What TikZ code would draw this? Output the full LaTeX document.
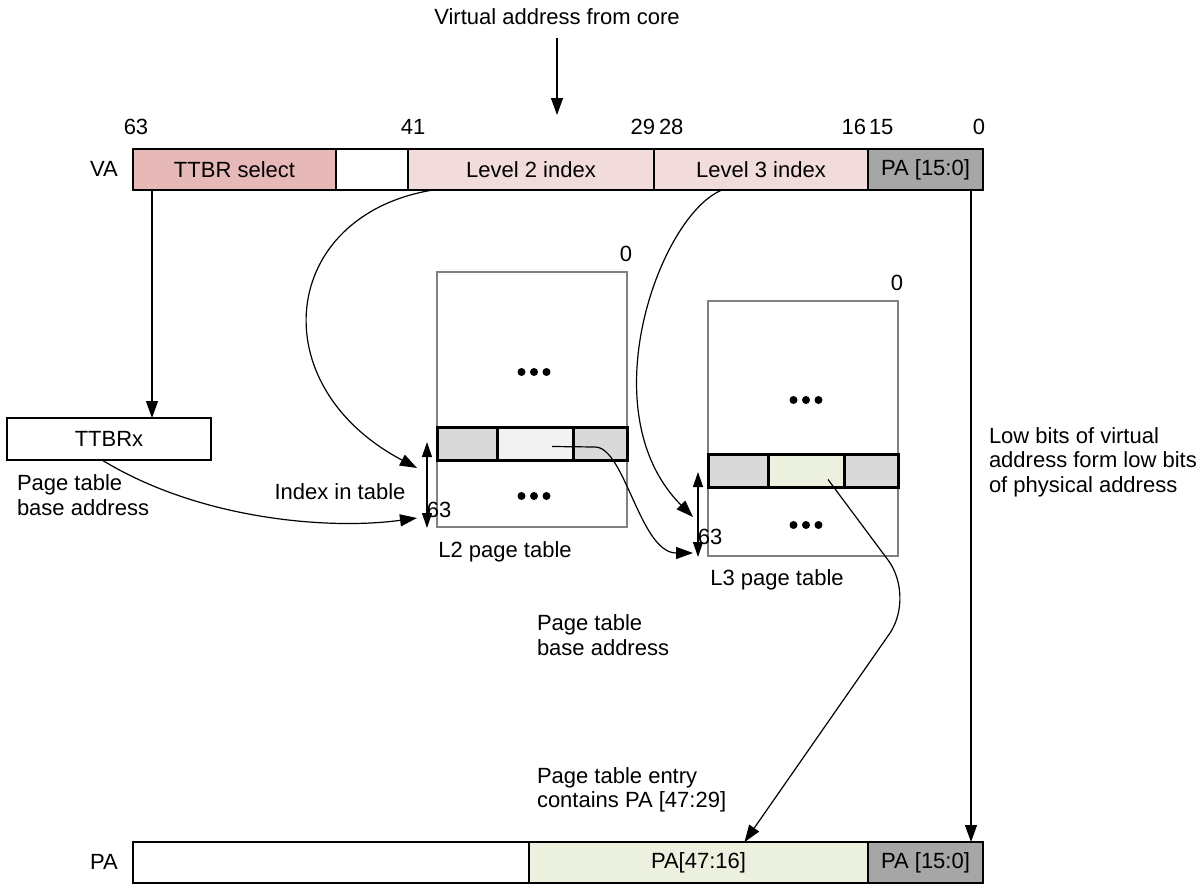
\documentclass[tikz,border=0pt]{standalone}
\usepackage{fontspec}
\setmainfont{Liberation Sans}
\usetikzlibrary{arrows.meta}
\definecolor{ttbrc}{HTML}{E6B8B7}
\definecolor{idxc}{HTML}{F2DCDB}
\definecolor{grayc}{HTML}{A6A6A6}
\definecolor{greenc}{HTML}{EBF1DE}
\definecolor{sidec}{HTML}{D9D9D9}
\definecolor{midc}{HTML}{F2F2F2}
\definecolor{tabc}{HTML}{808080}
\begin{document}
\begin{tikzpicture}[x=1pt,y=-1pt,
  every node/.style={font=\fontsize{22}{24.5}\selectfont, inner sep=0pt, outer sep=0pt},
  seg/.style={draw=black, line width=2.5pt, anchor=north west, minimum height=41pt},
  cell/.style={draw=black, line width=3pt, anchor=north west, minimum height=33pt},
  tab/.style={draw=tabc, line width=2pt, anchor=north west, minimum width=190pt, minimum height=255pt},
  conn/.style={line width=1.2pt, -{Triangle[length=17pt,width=12pt]}},
  dbl/.style={line width=1.2pt, {Triangle[length=15pt,width=10pt]}-{Triangle[length=15pt,width=10pt]}},
  lbl/.style={align=left, anchor=west}
]
\useasboundingbox (0,0) rectangle (1199,886);

% VA bar
\node[seg, fill=ttbrc, minimum width=203pt] (ttbr) at (133,149) {TTBR select};
\node[seg, minimum width=72pt] (gap) at (336,149) {};
\node[seg, fill=idxc, minimum width=246pt] (l2i) at (408,149) {Level 2 index};
\node[seg, fill=idxc, minimum width=214pt] (l3i) at (654,149) {Level 3 index};
\node[seg, fill=grayc, minimum width=115pt] (vpa) at (868,149) {PA [15:0]};
\node (va) at (104,169) {VA};

% bit numbers
\node (b63) at (136,127) {63};
\node (b41) at (413,127) {41};
\node[anchor=east] (b29) at (655,127) {29};
\node[anchor=west] (b28) at (659,127) {28};
\node[anchor=east] (b16) at (866,127) {16};
\node[anchor=west] (b15) at (869,127) {15};
\node[anchor=east] (b0) at (985,127) {0};

% core
\node (core) at (557,17) {Virtual address from core};
\coordinate (cs) at (557,38);
\coordinate (ce) at (557,115);
\draw[conn] (cs) -- (ce);

% TTBRx
\node[draw, line width=2.5pt, minimum width=204pt, minimum height=42pt, anchor=north west] (ttbrx) at (7,418) {TTBRx};
\node[lbl] (ptb1) at (17,495) {Page table\\base address};

% L2 table
\node[tab] (t2) at (437,272) {};
\node[cell, fill=sidec, minimum width=60pt] (t2a) at (437,427) {};
\node[cell, fill=midc, minimum width=76pt] (t2b) at (497,427) {};
\node[cell, fill=sidec, minimum width=54pt] (t2c) at (573,427) {};
\foreach \dx in {-12.5,0,12.5} {
  \fill (534+\dx,372) circle (4pt);
  \fill (534+\dx,496) circle (4pt);
}
\node (t2zero) at (626,254) {0};
\node (t2l) at (505,552) {L2 page table};
\coordinate (d2t) at (427,442);
\coordinate (d2b) at (427,528);
\draw[dbl] (d2t) -- (d2b);
\node (t2n) at (439,510) {63};
\node (idx) at (340,492) {Index in table};

% L3 table
\node[tab] (t3) at (708,301) {};
\node[cell, fill=sidec, minimum width=60pt] (t3a) at (708,454) {};
\node[cell, fill=greenc, minimum width=76pt] (t3b) at (768,454) {};
\node[cell, fill=sidec, minimum width=54pt] (t3c) at (844,454) {};
\foreach \dx in {-12.5,0,12.5} {
  \fill (806+\dx,400) circle (4pt);
  \fill (806+\dx,525) circle (4pt);
}
\node (t3zero) at (897,283) {0};
\node (t3l) at (777,580) {L3 page table};
\coordinate (d3t) at (698,472);
\coordinate (d3b) at (698,557);
\draw[dbl] (d3t) -- (d3b);
\node (t3n) at (710,537) {63};

% PA bar
\node[seg, minimum width=396pt] (pblank) at (133,842) {};
\node[seg, fill=greenc, minimum width=339pt] (p47) at (529,842) {PA[47:16]};
\node[seg, fill=grayc, minimum width=115pt] (p15) at (868,842) {PA [15:0]};
\node (pa) at (104,862) {PA};

% texts
\node[lbl] (ptb2) at (537,635) {Page table\\base address};
\node[lbl] (pte) at (537,790) {Page table entry\\contains PA [47:29]};
\node[lbl] (low) at (989,462) {Low bits of virtual\\address form low bits\\of physical address};

% connectors
\coordinate (t2in) at (417,468);
\coordinate (t2base) at (417,518);
\coordinate (t3in) at (693,517);
\coordinate (t3base) at (693,553);

\draw[conn] ([xshift=19pt]ttbr.south west) -- ([xshift=19pt]ttbr.south west |- ttbrx.north);
\draw[conn] ([xshift=25pt]l2i.south west) .. controls (280,215) and (260,385) .. (t2in);
\draw[conn] ([xshift=-7pt]ttbrx.south) .. controls (200,520) and (330,530) .. (t2base);
\draw[conn] ([xshift=68pt]l3i.south west) .. controls (660,215) and (588,412) .. (t3in);
\draw[conn] ([shift={(17,3)}]t2b.center) -- (595,447) .. controls (625,447) and (640,553) .. (t3base);
\draw[conn] ([shift={(22,9)}]t3b.center) -- (888,560) .. controls (903,580) and (904,612) .. (890,633) -- ([xshift=46pt]p47.north);
\draw[conn] ([xshift=-12pt]vpa.south east) -- ([xshift=-12pt]p15.north east);
\end{tikzpicture}
\end{document}
